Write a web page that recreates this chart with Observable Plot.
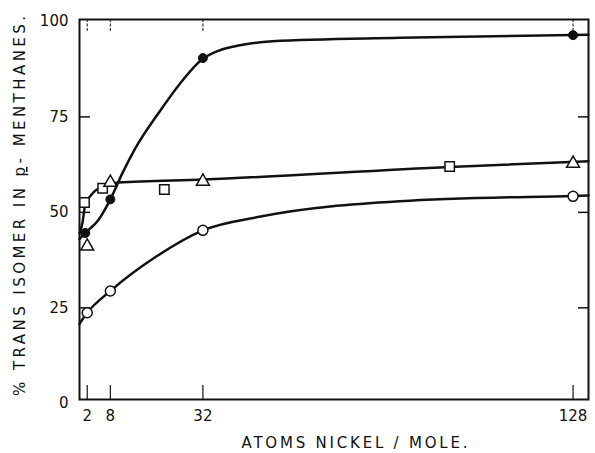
<!DOCTYPE html>
<html><head><meta charset="utf-8">
<script src="https://cdn.jsdelivr.net/npm/d3@7"></script>
<script src="https://cdn.jsdelivr.net/npm/@observablehq/plot@0.6"></script>
<style>body{margin:0;background:#fff} svg{display:block;background:#fff}</style>
</head><body><div id="chart"></div>
<script>
// Observed points
const openX = [2, 8, 32, 128];
const openY = [23.7, 29.4, 45.3, 54.2];
const filledX = [1.5, 8, 32, 128];
const filledY = [44.6, 53.4, 90.4, 96.4];
const triX = [2, 8, 32, 128];
const triY = [41.1, 57.8, 58.1, 62.8];
const sqX = [1.3, 6, 22, 96];
const sqY = [52.6, 56.3, 56.0, 62.0];

// Drawn (fitted) curves
const filledFitX = [0, 1.5, 4.9, 8, 11.1, 14.5, 20.7, 25.9, 32, 36, 42, 50, 83, 132];
const filledFitY = [43, 44.6, 48, 53.4, 60.2, 66.8, 76.3, 83.5, 90.2, 92.3, 93.8, 94.8, 95.7, 96.5];
const upperFitX = [0, 0.8, 1.4, 3.6, 6.2, 10.1, 32, 96, 132];
const upperFitY = [44.5, 47.4, 51.5, 55.2, 56.8, 57.8, 58.6, 61.9, 63.4];
const openFitX = [0, 2, 8, 20, 32, 47, 83, 128, 132];
const openFitY = [20.8, 23.7, 29.4, 38.5, 45.3, 48.9, 52.9, 54.3, 54.4];

// Ticks and labels
const xTicks = [2, 8, 32, 128];
const yTicks = [0, 25, 50, 75, 100];
const yInnerTicks = [25, 50, 75];
const xLabel = "ATOMS NICKEL / MOLE.";
const yLabelA = "% TRANS ISOMER IN ";
const yLabelP = "p";
const yLabelB = "- MENTHANES.";

const rows = (xs, ys) => xs.map((x, i) => ({x, y: ys[i]}));
const W = 595, H = 453, mL = 79, mR = 7, mT = 19, mB = 54;
const pw = W - mL - mR, ph = H - mT - mB;
const ink = "#111";

const chart = Plot.plot({
  width: W, height: H,
  marginLeft: mL, marginRight: mR, marginTop: mT, marginBottom: mB,
  x: {domain: [0, 132], axis: null},
  y: {domain: [1, 100.5], axis: null},
  style: {fontFamily: "DejaVu Sans, sans-serif", fontSize: "14px", color: ink, background: "white"},
  marks: [
    Plot.frame({stroke: ink, strokeWidth: 2}),
    Plot.tickY(yInnerTicks, {y: d => d, insetRight: pw - 11, stroke: ink, strokeWidth: 1.5}),
    Plot.tickY(yInnerTicks, {y: d => d, insetLeft: pw - 10, stroke: ink, strokeWidth: 1.5}),
    Plot.tickX(xTicks, {x: d => d, insetTop: ph - 14, stroke: ink, strokeWidth: 1.2}),
    Plot.tickX(xTicks, {x: d => d, insetBottom: ph - 13, stroke: ink, strokeWidth: 1, strokeDasharray: "3,1.5"}),
    Plot.text(yTicks, {y: d => d, text: d => String(d), frameAnchor: "left", textAnchor: "end", dx: -11, fontSize: 15, fill: ink}),
    Plot.text(xTicks, {x: d => d, text: d => String(d), frameAnchor: "bottom", lineAnchor: "top", dy: 11, fontSize: 15, fill: ink}),
    Plot.line(rows(openFitX, openFitY), {x: "x", y: "y", curve: "monotone-x", stroke: ink, strokeWidth: 2.5}),
    Plot.line(rows(upperFitX, upperFitY), {x: "x", y: "y", curve: "monotone-x", stroke: ink, strokeWidth: 2.5}),
    Plot.line(rows(filledFitX, filledFitY), {x: "x", y: "y", curve: "monotone-x", stroke: ink, strokeWidth: 2.5}),
    Plot.dot(rows(sqX, sqY), {x: "x", y: "y", symbol: "square", r: 5.3, fill: "white", stroke: ink, strokeWidth: 1.5}),
    Plot.dot(rows(triX, triY), {x: "x", y: "y", symbol: "triangle", r: 4.8, fill: "white", stroke: ink, strokeWidth: 1.5}),
    Plot.dot(rows(openX, openY), {x: "x", y: "y", r: 5, fill: "white", stroke: ink, strokeWidth: 1.5}),
    Plot.dot(rows(filledX, filledY), {x: "x", y: "y", r: 4.5, fill: ink, stroke: ink, strokeWidth: 1})
  ]
});

const svg = d3.select(chart);
svg.append("text")
  .attr("x", 354.5).attr("y", 448)
  .attr("text-anchor", "middle")
  .attr("font-size", 15).attr("fill", ink)
  .attr("textLength", 226).attr("lengthAdjust", "spacing")
  .text(xLabel);

const yl = svg.append("text")
  .attr("transform", "translate(25,206) rotate(-90)")
  .attr("text-anchor", "middle")
  .attr("font-size", 15).attr("fill", ink)
  .attr("textLength", 380).attr("lengthAdjust", "spacing");
yl.append("tspan").text(yLabelA);
yl.append("tspan").attr("text-decoration", "underline").text(yLabelP);
yl.append("tspan").text(yLabelB);

document.getElementById("chart").appendChild(chart);
</script>
</body></html>
